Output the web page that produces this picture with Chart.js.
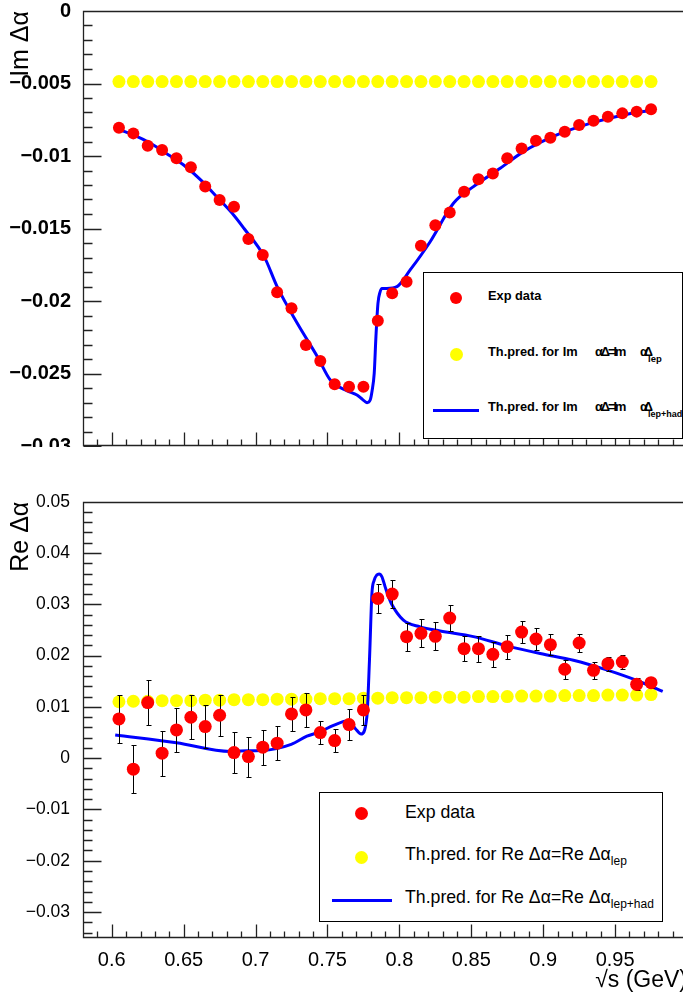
<!DOCTYPE html>
<html>
<head>
<meta charset="utf-8">
<script src="https://cdn.jsdelivr.net/npm/chart.js@4.4.1/dist/chart.umd.min.js"></script>
<style>
body { margin:0; width:683px; height:1001px; overflow:hidden; background:#fff; position:relative; font-family:'Liberation Sans', Arial, sans-serif; }
.wrap { position:absolute; left:0; width:683px; overflow:hidden; }
.wrap canvas { display:block; }
#topWrap { top:0; height:447px; }
#botWrap { top:447px; height:554px; }
.leg { position:absolute; background:#fff; border:1px solid #000; box-sizing:border-box; }
.dot { position:absolute; border-radius:50%; }
.bar { position:absolute; background:#0000ff; height:3px; }
.txt { position:absolute; white-space:nowrap; line-height:1; color:#000; }
.b { font-weight:bold; font-size:12.8px; }
.r { font-size:17.7px; }
</style>
</head>
<body>
<div class="wrap" id="topWrap"><canvas id="imChart" width="700" height="470"></canvas></div>
<div class="wrap" id="botWrap"><canvas id="reChart" width="700" height="554"></canvas></div>

<!-- legende du haut -->
<div class="leg" style="left:423px;top:272px;width:260px;height:167px;"></div>
<div class="dot" style="left:450px;top:292px;width:12px;height:12px;background:#ff0000;"></div>
<div class="txt b" style="left:488px;top:290px;">Exp data</div>
<div class="dot" style="left:450px;top:348px;width:13px;height:13px;background:#ffff00;"></div>
<div class="txt b" style="left:488px;top:346px;">Th.pred. for Im</div>
<div class="txt b" style="left:595px;top:346px;letter-spacing:-2px;">αΔ=Im</div>
<div class="txt b" style="left:640px;top:346px;letter-spacing:-4px;">αΔ</div>
<div class="txt" style="left:648px;top:354px;font-size:9.5px;font-weight:bold;">lep</div>
<div class="bar" style="left:433px;top:409px;width:46px;"></div>
<div class="txt b" style="left:488px;top:401px;">Th.pred. for Im</div>
<div class="txt b" style="left:595px;top:401px;letter-spacing:-2px;">αΔ=Im</div>
<div class="txt b" style="left:640px;top:401px;letter-spacing:-4px;">αΔ</div>
<div class="txt" style="left:648px;top:410px;font-size:9px;font-weight:bold;">lep+had</div>

<!-- legende du bas -->
<div class="leg" style="left:319px;top:792px;width:344px;height:130px;"></div>
<div class="dot" style="left:355px;top:807px;width:13px;height:13px;background:#ff0000;"></div>
<div class="txt r" style="left:405px;top:804px;">Exp data</div>
<div class="dot" style="left:355px;top:851px;width:13px;height:13px;background:#ffff00;"></div>
<div class="txt r" style="left:405px;top:846px;">Th.pred. for Re Δα=Re Δα<span style="font-size:12px;position:relative;top:5px;">lep</span></div>
<div class="bar" style="left:332px;top:899px;width:60px;"></div>
<div class="txt r" style="left:405px;top:889px;">Th.pred. for Re Δα=Re Δα<span style="font-size:12px;position:relative;top:5px;">lep+had</span></div>

<script>
// points mesures (sqrt(s) en GeV)
const sqrtS = [0.605, 0.615, 0.625, 0.635, 0.645, 0.655, 0.665, 0.675, 0.685, 0.695,
               0.705, 0.715, 0.725, 0.735, 0.745, 0.755, 0.765, 0.775, 0.785, 0.795,
               0.805, 0.815, 0.825, 0.835, 0.845, 0.855, 0.865, 0.875, 0.885, 0.895,
               0.905, 0.915, 0.925, 0.935, 0.945, 0.955, 0.965, 0.975];

// Im delta alpha
const imExp = [-0.00805, -0.00844, -0.00929, -0.00959, -0.01016, -0.01078, -0.01211, -0.01303, -0.0135, -0.01572,
               -0.01683, -0.0194, -0.0205, -0.02303, -0.02414, -0.02574, -0.02591, -0.02591, -0.02136, -0.01947,
               -0.01867, -0.01619, -0.01478, -0.01389, -0.01246, -0.01161, -0.0112, -0.01016, -0.00949, -0.00894,
               -0.00874, -0.00832, -0.00786, -0.00757, -0.00729, -0.00706, -0.00694, -0.00678];
const imLep = [-0.00487, -0.00487, -0.00487, -0.00487, -0.00487, -0.00487, -0.00487, -0.00487, -0.00487, -0.00487,
               -0.00487, -0.00487, -0.00487, -0.00487, -0.00487, -0.00487, -0.00487, -0.00487, -0.00487, -0.00487,
               -0.00487, -0.00487, -0.00487, -0.00487, -0.00487, -0.00487, -0.00487, -0.00487, -0.00487, -0.00487,
               -0.00487, -0.00487, -0.00487, -0.00487, -0.00487, -0.00487, -0.00487, -0.00487];
const imThX = [0.602, 0.615, 0.627, 0.638, 0.650, 0.662, 0.673, 0.685, 0.692, 0.706,
               0.715, 0.729, 0.743, 0.752, 0.7635, 0.7705, 0.7745, 0.7775, 0.7797, 0.781,
               0.7825, 0.7837, 0.7851, 0.7865, 0.7879, 0.7913, 0.7983, 0.8075, 0.8214, 0.8376,
               0.8515, 0.8701, 0.8863, 0.9095, 0.9326, 0.9558, 0.9767];
const imTh = [-0.00809, -0.00855, -0.00913, -0.00982, -0.01062, -0.01166, -0.01281, -0.0141, -0.0150, -0.01694,
              -0.01901, -0.02154, -0.02384, -0.02545, -0.02619, -0.02648, -0.0268, -0.02701, -0.02683, -0.0262,
              -0.02499, -0.02246, -0.02016, -0.0194, -0.01913, -0.01913, -0.01901, -0.01786, -0.01591, -0.01326,
              -0.01211, -0.01085, -0.0097, -0.00855, -0.00775, -0.00717, -0.00683];

// Re delta alpha
const reExp = [0.00765, -0.00214, 0.01083, 0.00097, 0.0055, 0.00798, 0.00615, 0.00837, 0.00109, 0.00031,
               0.00214, 0.00292, 0.00863, 0.0094, 0.00499, 0.00343, 0.00654, 0.0094, 0.03115, 0.0320,
               0.02368, 0.02434, 0.02375, 0.02732, 0.02134, 0.02134, 0.02025, 0.02173, 0.02459, 0.02323,
               0.02212, 0.01733, 0.02245, 0.01713, 0.01842, 0.01875, 0.0144, 0.01472];
const reErr = [0.0046, 0.0047, 0.0044, 0.0044, 0.0043, 0.0043, 0.0042, 0.0040, 0.0040, 0.0039,
               0.0034, 0.0033, 0.0033, 0.0033, 0.0023, 0.0023, 0.0030, 0.0030, 0.0029, 0.0028,
               0.0027, 0.0027, 0.0027, 0.0026, 0.0024, 0.0025, 0.0024, 0.0023, 0.0022, 0.0021,
               0.0020, 0.0019, 0.0018, 0.0016, 0.0014, 0.0014, 0.0012, 0.0010];
const reLep = [0.0110, 0.0111, 0.0111, 0.0112, 0.0112, 0.0112, 0.0113, 0.0113, 0.0114, 0.0114,
               0.0114, 0.0115, 0.0115, 0.0115, 0.0116, 0.0116, 0.0116, 0.0117, 0.0117, 0.0118,
               0.0118, 0.0118, 0.0119, 0.0119, 0.0119, 0.0120, 0.0120, 0.0120, 0.0121, 0.0121,
               0.0121, 0.0122, 0.0122, 0.0122, 0.0123, 0.0123, 0.0123, 0.0124];
const reThX = [0.6024, 0.645, 0.6824, 0.6893, 0.7044, 0.7248, 0.7357, 0.7444, 0.7542, 0.7646,
               0.7693, 0.7734, 0.7774, 0.7792, 0.7809, 0.7825, 0.7843, 0.7859, 0.7878, 0.7901,
               0.7924, 0.7943, 0.8028, 0.8144, 0.8283, 0.8515, 0.8747, 0.8979, 0.9210, 0.9442,
               0.9674, 0.9831];
const reTh = [0.00453, 0.0030, 0.0013, 0.00142, 0.0015, 0.0027, 0.0043, 0.0051, 0.0064, 0.0073,
              0.0058, 0.0047, 0.0081, 0.0191, 0.0321, 0.0347, 0.0357, 0.0359, 0.0354, 0.0334,
              0.0315, 0.0302, 0.0269, 0.0256, 0.0248, 0.0237, 0.0219, 0.0204, 0.0191, 0.0172,
              0.0149, 0.0130];

// graduations
const xTicks = [0.6, 0.65, 0.7, 0.75, 0.8, 0.85, 0.9, 0.95, 1.0];
const yImTicks = [-0.03, -0.025, -0.02, -0.015, -0.01, -0.005, 0];
const yReTicks = [-0.03, -0.02, -0.01, 0, 0.01, 0.02, 0.03, 0.04, 0.05];

const FONT = "'Liberation Sans', Arial, sans-serif";

const xMinor = [];
for (let k = 58; k <= 100; k++) if (k % 5) xMinor.push(k / 100);
const yImMinor = [];
for (let k = -30; k <= 0; k++) if (k % 5) yImMinor.push(k / 1000);
const yReMinor = [];
for (let k = -34; k <= 50; k += 2) if (k % 10) yReMinor.push(k / 1000);

function fmt(v) {
    if (Math.abs(v) < 1e-9) return '0';
    const s = String(Math.abs(+v.toFixed(4)));
    return (v < 0 ? '\u2212' : '') + s;
}

function pts(xs, ys) {
    return xs.map((x, i) => ({ x: x, y: ys[i] }));
}

// cadre + graduations vers l'interieur (style ROOT)
function frameTicks(yMinor) {
    return {
        id: 'frameTicks',
        afterDatasetsDraw(chart) {
            const { ctx, chartArea: a, scales: { x, y } } = chart;
            const L = Math.round(a.left) + 0.5, T = Math.round(a.top) + 0.5;
            const B = Math.round(a.bottom) - 0.5, R = Math.round(a.right) - 0.5;
            ctx.save();
            ctx.strokeStyle = '#222';
            ctx.lineWidth = 1.3;
            ctx.beginPath();
            ctx.moveTo(L, T); ctx.lineTo(R, T); ctx.lineTo(R, B); ctx.lineTo(L, B); ctx.closePath();
            x.ticks.forEach(t => {
                const px = Math.round(x.getPixelForValue(t.value)) + 0.5;
                ctx.moveTo(px, B); ctx.lineTo(px, B - 13);
            });
            xMinor.forEach(v => {
                const px = Math.round(x.getPixelForValue(v)) + 0.5;
                ctx.moveTo(px, B); ctx.lineTo(px, B - 6);
            });
            y.ticks.forEach(t => {
                const py = Math.round(y.getPixelForValue(t.value)) + 0.5;
                ctx.moveTo(L, py); ctx.lineTo(L + 18, py);
            });
            yMinor.forEach(v => {
                const py = Math.round(y.getPixelForValue(v)) + 0.5;
                ctx.moveTo(L, py); ctx.lineTo(L + 9, py);
            });
            ctx.stroke();
            ctx.restore();
        }
    };
}

// barres d'erreur sous les points rouges
const errorBars = {
    id: 'errorBars',
    beforeDatasetDraw(chart, args) {
        if (args.index !== 0) return;
        const { ctx, scales: { x, y } } = chart;
        ctx.save();
        ctx.strokeStyle = '#000';
        ctx.lineWidth = 1;
        ctx.beginPath();
        sqrtS.forEach((v, i) => {
            const px = Math.round(x.getPixelForValue(v)) + 0.5;
            const y1 = Math.round(y.getPixelForValue(reExp[i] + reErr[i])) + 0.5;
            const y2 = Math.round(y.getPixelForValue(reExp[i] - reErr[i])) + 0.5;
            ctx.moveTo(px, y1); ctx.lineTo(px, y2);
            ctx.moveTo(px - 2, y1); ctx.lineTo(px + 3, y1);
            ctx.moveTo(px - 2, y2); ctx.lineTo(px + 3, y2);
        });
        ctx.stroke();
        ctx.restore();
    }
};

function xScale(showLabels) {
    return {
        type: 'linear', min: 0.58, max: 1.0,
        grid: { display: false }, border: { display: false },
        afterBuildTicks: s => { s.ticks = xTicks.map(v => ({ value: v })); },
        ticks: {
            display: showLabels, autoSkip: false, maxRotation: 0, padding: 3,
            color: '#000', font: { family: FONT, size: 20 },
            callback: v => (v > 0.999 ? '' : String(v))
        },
        title: {
            display: showLabels, text: '\u221As (GeV)', align: 'end', color: '#000',
            font: { family: FONT, size: 23 }, padding: { top: 0, bottom: 7 }
        }
    };
}

// panneau du haut : Im
new Chart(document.getElementById('imChart'), {
    type: 'scatter',
    data: {
        datasets: [
            { label: 'Exp data', data: pts(sqrtS, imExp), backgroundColor: '#ff0000', borderWidth: 0, pointRadius: 6 },
            { label: 'lep+had', data: pts(imThX, imTh), showLine: true, borderColor: '#0000ff', borderWidth: 3,
              pointRadius: 0, cubicInterpolationMode: 'monotone' },
            { label: 'lep', data: pts(sqrtS, imLep), backgroundColor: '#ffff00', borderWidth: 0, pointRadius: 6.5 }
        ]
    },
    options: {
        responsive: false, animation: false, devicePixelRatio: 1,
        layout: { padding: { top: 11, right: 13, bottom: 0, left: 0 } },
        plugins: { legend: { display: false }, tooltip: { enabled: false } },
        scales: {
            x: Object.assign(xScale(false), { afterFit: s => { s.height = 24; } }),
            y: {
                min: -0.03, max: 0,
                grid: { display: false }, border: { display: false },
                afterBuildTicks: s => { s.ticks = yImTicks.map(v => ({ value: v })); },
                afterFit: s => { s.width = 83; },
                ticks: { padding: 4, color: '#000', font: { family: FONT, size: 20, weight: 'bold', lineHeight: 0.6 }, callback: fmt },
                title: { display: true, text: 'Im \u0394\u03B1', align: 'end', color: '#000',
                         font: { family: FONT, size: 25, lineHeight: 1.2 }, padding: { top: 6, bottom: 0 } }
            }
        }
    },
    plugins: [frameTicks(yImMinor)]
});

// panneau du bas : Re
new Chart(document.getElementById('reChart'), {
    type: 'scatter',
    data: {
        datasets: [
            { label: 'Exp data', data: pts(sqrtS, reExp), backgroundColor: '#ff0000', borderWidth: 0, pointRadius: 6.5 },
            { label: 'lep+had', data: pts(reThX, reTh), showLine: true, borderColor: '#0000ff', borderWidth: 3,
              pointRadius: 0, cubicInterpolationMode: 'monotone' },
            { label: 'lep', data: pts(sqrtS, reLep), backgroundColor: '#ffff00', borderWidth: 0, pointRadius: 6.5 }
        ]
    },
    options: {
        responsive: false, animation: false, devicePixelRatio: 1,
        layout: { padding: { top: 54.7, right: 13, bottom: 0, left: 0 } },
        plugins: { legend: { display: false }, tooltip: { enabled: false } },
        scales: {
            x: Object.assign(xScale(true), { afterFit: s => { s.height = 63.3; } }),
            y: {
                min: -0.035, max: 0.05,
                grid: { display: false }, border: { display: false },
                afterBuildTicks: s => { s.ticks = yReTicks.map(v => ({ value: v })); },
                afterFit: s => { s.width = 83; },
                ticks: { padding: 5, color: '#000', font: { family: FONT, size: 17.5 }, callback: fmt },
                title: { display: true, text: 'Re \u0394\u03B1', align: 'end', color: '#000',
                         font: { family: FONT, size: 25, lineHeight: 1.2 }, padding: { top: 6, bottom: 0 } }
            }
        }
    },
    plugins: [frameTicks(yReMinor), errorBars]
});
</script>
</body>
</html>
